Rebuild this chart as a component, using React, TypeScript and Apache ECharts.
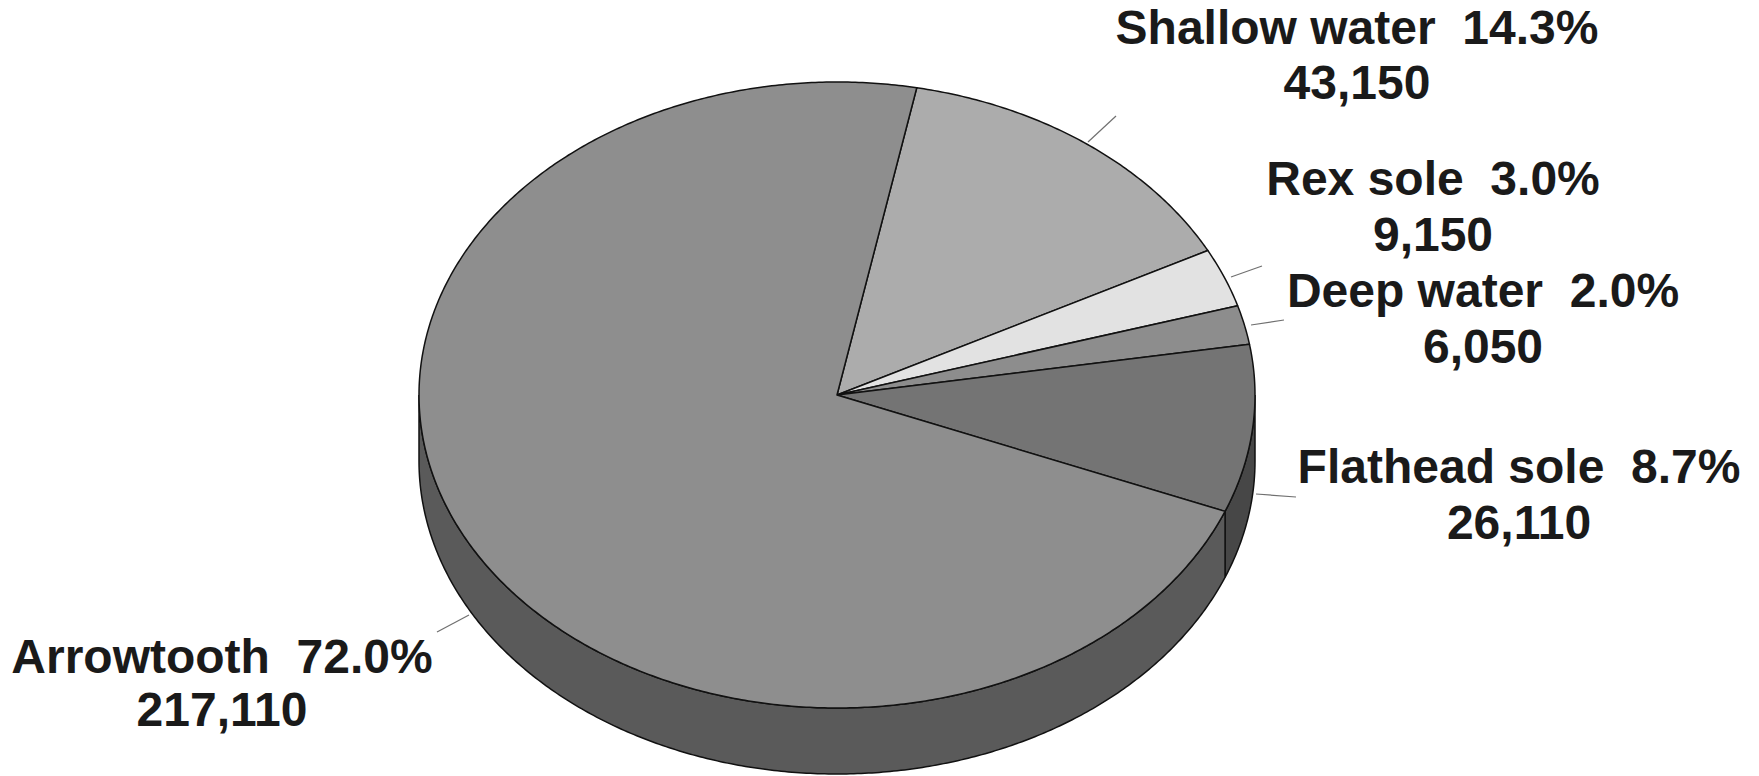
import React, { useEffect, useRef } from "react";
import * as echarts from "echarts";

// ---- data (clockwise from the top) ----
const categories = ["Shallow water", "Rex sole", "Deep water", "Flathead sole", "Arrowtooth"];
const values = [43150, 9150, 6050, 26110, 217110];

// ---- styles ----
const topColors = ["#acacac", "#e2e2e2", "#8d8d8d", "#747474", "#8e8e8e"];
const sideColors = ["#666666", "#9a9a9a", "#555555", "#474747", "#5a5a5a"];
// label block centre (x, first-line y, second-line y) and leader line ends
const labelPos = [
  [1357, 27, 82],
  [1433, 178, 234],
  [1483, 290, 346],
  [1519, 466, 522],
  [222, 656, 709],
];
const leaderPos = [
  [1088, 142, 1116, 116],
  [1231, 277, 1262, 266],
  [1251, 325, 1284, 320],
  [1256, 494, 1296, 497],
  [437, 632, 469, 615],
];

// ---- geometry of the tilted pie ----
const CX = 837;
const CY = 395;
const RX = 418;
const RY = 313;
const DEPTH = 66;
const START_DEG = 11; // clockwise from 12 o'clock

const total = values.reduce((a, b) => a + b, 0);
const spans: [number, number][] = (() => {
  let acc = 0;
  return values.map((v) => {
    const s = START_DEG + (acc / total) * 360;
    acc += v;
    const e = START_DEG + (acc / total) * 360;
    return [s, e];
  });
})();

function pt(tDeg: number, dy = 0): number[] {
  const t = (tDeg * Math.PI) / 180;
  return [CX + RX * Math.sin(t), CY - RY * Math.cos(t) + dy];
}
function arc(t1: number, t2: number, dy = 0): number[][] {
  const n = Math.max(2, Math.ceil(Math.abs(t2 - t1) / 0.5));
  const out: number[][] = [];
  for (let k = 0; k <= n; k++) out.push(pt(t1 + ((t2 - t1) * k) / n, dy));
  return out;
}
function fmt(v: number) {
  return v.toLocaleString("en-US");
}

const FONT = "'Liberation Sans', Arial, sans-serif";
const FONT_SIZE = 48;

export default function App() {
  const ref = useRef<HTMLDivElement>(null);
  useEffect(() => {
    if (!ref.current) return;
    const chart = echarts.init(ref.current, null, { renderer: "svg" });
    const data = values.map((v, i) => [v, i]);
    chart.setOption({
      animation: false,
      backgroundColor: "#ffffff",
      series: [
        {
          type: "custom",
          coordinateSystem: "none",
          data,
          z: 1,
          renderItem: (params: any) => {
            const i = params.dataIndex;
            const [s, e] = spans[i];
            const children: any[] = [];
            const ranges = [
              [90, 270],
              [450, 630],
            ];
            ranges.forEach(([a, b]) => {
              const u1 = Math.max(s, a);
              const u2 = Math.min(e, b);
              if (u2 > u1) {
                const points = [...arc(u1, u2, 0), ...arc(u2, u1, DEPTH)];
                children.push({
                  type: "polygon",
                  shape: { points },
                  style: { fill: sideColors[i], stroke: "#111111", lineWidth: 1.5 },
                });
              }
            });
            return { type: "group", children };
          },
        },
        {
          type: "custom",
          coordinateSystem: "none",
          data,
          z: 2,
          renderItem: (params: any, api: any) => {
            const i = params.dataIndex;
            const v = api.value(0);
            const [s, e] = spans[i];
            const points = [[CX, CY], ...arc(s, e, 0)];
            const pct = ((v / total) * 100).toFixed(1) + "%";
            const [lx, ly1, ly2] = labelPos[i];
            const [x1, y1, x2, y2] = leaderPos[i];
            const textStyle = {
              fill: "#1a1a1a",
              fontSize: FONT_SIZE,
              fontWeight: "bold",
              fontFamily: FONT,
              align: "center",
              verticalAlign: "middle",
            };
            return {
              type: "group",
              children: [
                {
                  type: "polygon",
                  shape: { points },
                  style: { fill: topColors[i], stroke: "#111111", lineWidth: 1.5, lineJoin: "round" },
                },
                {
                  type: "line",
                  shape: { x1, y1, x2, y2 },
                  style: { stroke: "#707070", lineWidth: 1.2 },
                },
                {
                  type: "text",
                  x: lx,
                  y: ly1,
                  style: { ...textStyle, text: categories[i] + "  " + pct },
                },
                {
                  type: "text",
                  x: lx,
                  y: ly2,
                  style: { ...textStyle, text: fmt(v) },
                },
              ],
            };
          },
        },
      ],
    });
    return () => chart.dispose();
  }, []);
  return (
    <div
      ref={ref}
      style={{ position: "absolute", left: 0, top: 0, width: 1759, height: 776 }}
    />
  );
}
